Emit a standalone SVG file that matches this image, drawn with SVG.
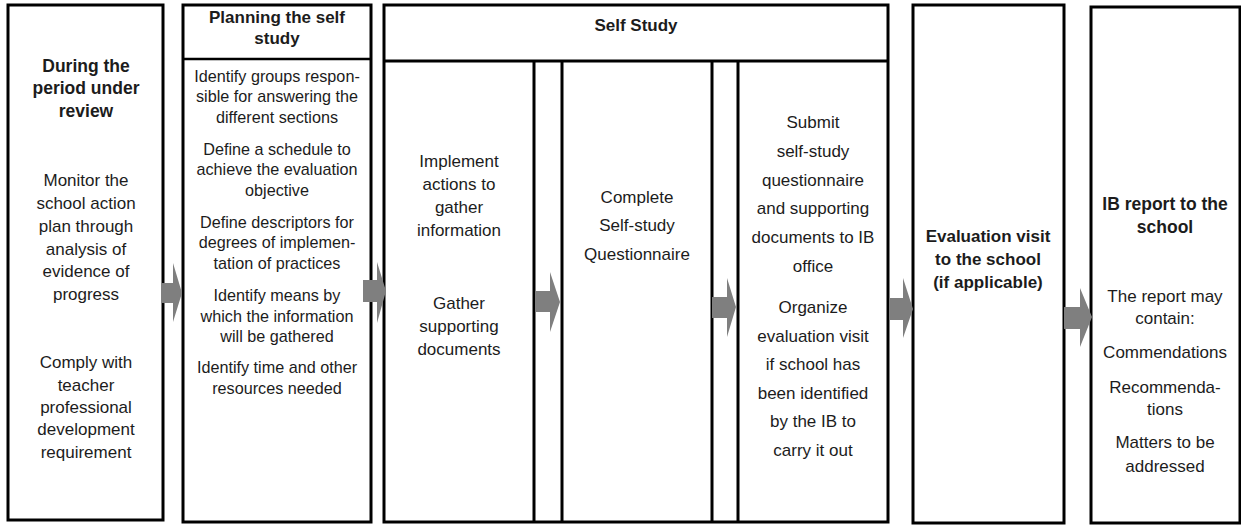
<svg xmlns="http://www.w3.org/2000/svg" width="1241" height="525" viewBox="0 0 1241 525">
<style>
.box{fill:#fff;stroke:#000;stroke-width:3}
.ln{stroke:#000;stroke-width:3}
.arr{fill:#7f7f7f}
text{font-family:"Liberation Sans",Arial,sans-serif;fill:#1c1c1c;text-anchor:middle}
.h{font-weight:bold;font-size:17px}
.h1{font-weight:bold;font-size:17.5px}
.b{font-size:17px}
.s{font-size:16.2px}
</style>
<rect width="1241" height="525" fill="#fff"/>
<g id="node-review">
<rect class="box" x="8" y="5" width="155" height="515"/>
<text class="h1" x="86" y="72">During the</text>
<text class="h1" x="86" y="94">period under</text>
<text class="h1" x="86" y="117">review</text>
<text class="b" x="86" y="186">Monitor the</text>
<text class="b" x="86" y="209">school action</text>
<text class="b" x="86" y="232">plan through</text>
<text class="b" x="86" y="255">analysis of</text>
<text class="b" x="86" y="277">evidence of</text>
<text class="b" x="86" y="300">progress</text>
<text class="b" x="86" y="368">Comply with</text>
<text class="b" x="86" y="391">teacher</text>
<text class="b" x="86" y="413">professional</text>
<text class="b" x="86" y="435">development</text>
<text class="b" x="86" y="458">requirement</text>
</g>
<g id="node-planning">
<rect class="box" x="183" y="5" width="188" height="517"/>
<line class="ln" x1="183" y1="59" x2="371" y2="59" style="stroke-width:2.5"/>
<text class="h" x="277" y="23">Planning the self</text>
<text class="h" x="277" y="44">study</text>
<text class="s" x="277" y="82">Identify groups respon-</text>
<text class="s" x="277" y="102">sible for answering the</text>
<text class="s" x="277" y="123">different sections</text>
<text class="s" x="277" y="155">Define a schedule to</text>
<text class="s" x="277" y="175">achieve the evaluation</text>
<text class="s" x="277" y="196">objective</text>
<text class="s" x="277" y="228">Define descriptors for</text>
<text class="s" x="277" y="248">degrees of implemen-</text>
<text class="s" x="277" y="269">tation of practices</text>
<text class="s" x="277" y="301">Identify means by</text>
<text class="s" x="277" y="322">which the information</text>
<text class="s" x="277" y="342">will be gathered</text>
<text class="s" x="277" y="373">Identify time and other</text>
<text class="s" x="277" y="394">resources needed</text>
</g>
<g id="node-selfstudy">
<rect class="box" x="384" y="5" width="504" height="517"/>
<line class="ln" x1="384" y1="61" x2="888" y2="61"/>
<text class="h" x="636" y="31">Self Study</text>
</g>
<g id="node-implement">
<line class="ln" x1="534" y1="61" x2="534" y2="522"/>
<text class="b" x="459" y="167">Implement</text>
<text class="b" x="459" y="190">actions to</text>
<text class="b" x="459" y="213">gather</text>
<text class="b" x="459" y="236">information</text>
<text class="b" x="459" y="309">Gather</text>
<text class="b" x="459" y="332">supporting</text>
<text class="b" x="459" y="355">documents</text>
</g>
<g id="node-complete">
<line class="ln" x1="562" y1="61" x2="562" y2="522"/>
<line class="ln" x1="712" y1="61" x2="712" y2="522"/>
<text class="b" x="637" y="203">Complete</text>
<text class="b" x="637" y="231">Self-study</text>
<text class="b" x="637" y="260">Questionnaire</text>
</g>
<g id="node-submit">
<line class="ln" x1="738" y1="61" x2="738" y2="522"/>
<text class="b" x="813" y="128">Submit</text>
<text class="b" x="813" y="157">self-study</text>
<text class="b" x="813" y="186">questionnaire</text>
<text class="b" x="813" y="214">and supporting</text>
<text class="b" x="813" y="243">documents to IB</text>
<text class="b" x="813" y="272">office</text>
<text class="b" x="813" y="313">Organize</text>
<text class="b" x="813" y="342">evaluation visit</text>
<text class="b" x="813" y="370">if school has</text>
<text class="b" x="813" y="399">been identified</text>
<text class="b" x="813" y="427">by the IB to</text>
<text class="b" x="813" y="456">carry it out</text>
</g>
<g id="node-visit">
<rect class="box" x="913" y="5" width="151" height="518"/>
<text class="h" x="988" y="242">Evaluation visit</text>
<text class="h" x="988" y="265">to the school</text>
<text class="h" x="988" y="288">(if applicable)</text>
</g>
<g id="node-report">
<rect class="box" x="1091" y="7" width="149" height="516"/>
<text class="h1" x="1165" y="210">IB report to the</text>
<text class="h1" x="1165" y="233">school</text>
<text class="b" x="1165" y="302">The report may</text>
<text class="b" x="1165" y="324">contain:</text>
<text class="b" x="1165" y="358">Commendations</text>
<text class="b" x="1165" y="393">Recommenda-</text>
<text class="b" x="1165" y="415">tions</text>
<text class="b" x="1165" y="448">Matters to be</text>
<text class="b" x="1165" y="472">addressed</text>
</g>
<g id="connectors">
<polygon class="arr" points="162,283 173,283 173,263 182,293 173,322 173,303 162,303"/>
<polygon class="arr" points="363,280 377,280 377,262 386,291 377,323 377,302 363,302"/>
<polygon class="arr" points="535,291 550,291 550,272 560,302 550,332 550,312 535,312"/>
<polygon class="arr" points="712,297 727,297 727,278 736,307 727,337 727,318 712,318"/>
<polygon class="arr" points="889,298 903,298 903,278 913,309 903,338 903,320 889,320"/>
<polygon class="arr" points="1064,307 1080,307 1080,288 1092,317 1080,347 1080,329 1064,329"/>
</g>
</svg>
